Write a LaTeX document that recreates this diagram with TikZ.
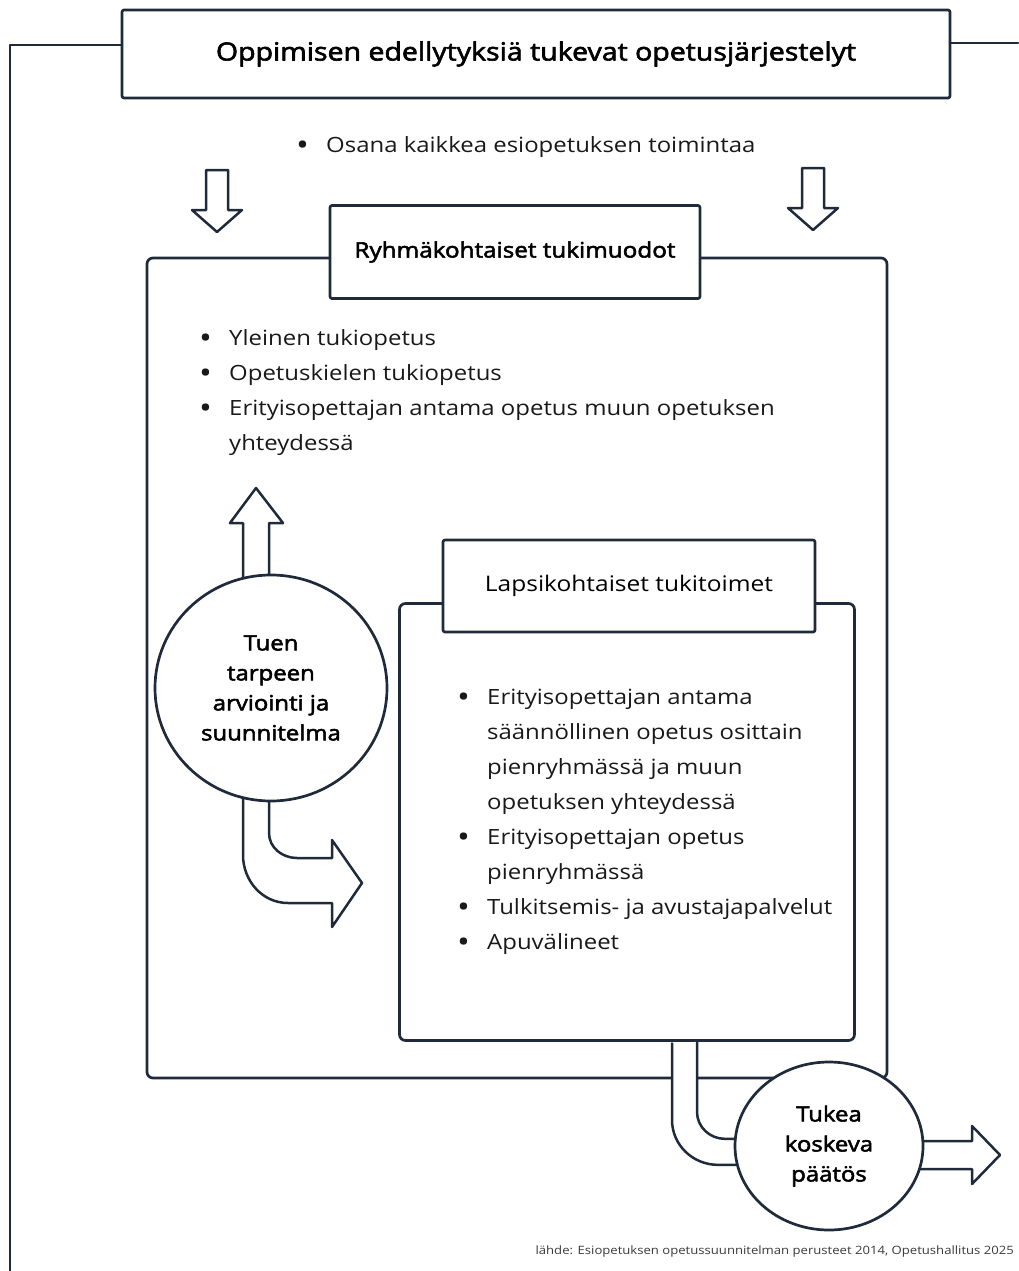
\documentclass[tikz,border=0pt]{standalone}
\usepackage{fontspec}
\setmainfont{Open Sans}[FakeStretch=1.14]
\newfontfamily\headfont{Open Sans}[FakeStretch=1.14, FakeBold=2.5]
\usetikzlibrary{shapes.geometric,positioning}

\definecolor{inkblue}{HTML}{1F2B3A}
\definecolor{sourcegray}{HTML}{3A3A3A}

\newcommand{\bdot}{\raisebox{-3pt}{\fontsize{30}{35}\selectfont\textbullet}}
\newcommand{\bitem}[1]{\makebox[30pt][l]{\bdot}#1}
\newcommand{\bcont}[1]{\hspace*{30pt}#1}

\tikzset{
  frame/.style={line width=2.7pt, draw=inkblue, line join=round, line cap=round},
  titlebox/.style={frame, fill=white, rounded corners=2pt, inner sep=0pt},
  groupbox/.style={frame, rounded corners=6pt, inner sep=0pt},
  blockarrow/.style={frame, fill=white, line width=2.5pt},
  bubble/.style={frame, fill=white, ellipse, inner sep=0pt, align=center,
    font=\fontsize{21}{30}\headfont},
  bodytext/.style={font=\fontsize{21}{35}\selectfont, text=black!90, align=left, inner sep=0pt},
}

\begin{document}
\begin{tikzpicture}[x=1pt,y=-1pt]
\useasboundingbox (0,0) rectangle (1018,1271);

% Main heading and outer frame
\node[titlebox, minimum width=828pt, minimum height=88pt,
  font=\fontsize{25}{28}\headfont] (title) at (536,54)
  {Oppimisen edellytyksiä tukevat opetusjärjestelyt};
\draw[frame] ([yshift=9pt]title.west) -- (10,45) -- (10,1271);
\draw[frame] ([yshift=11pt]title.east) -- (1018,43);

\node[bodytext, anchor=north west] (general) at (296,136)
  {\bitem{Osana kaikkea esiopetuksen toimintaa}};

% Hollow arrows down
\coordinate (downL) at (217,170);
\coordinate (downR) at (813,168);
\draw[blockarrow] (downL) ++(-11,0) -- ++(22,0) -- ++(0,40) -- ++(14,0)
  -- ++(-25,22) -- ++(-25,-22) -- ++(14,0) -- cycle;
\draw[blockarrow] (downR) ++(-11,0) -- ++(22,0) -- ++(0,40) -- ++(14,0)
  -- ++(-25,22) -- ++(-25,-22) -- ++(14,0) -- cycle;

% Group level support
\node[groupbox, minimum width=740pt, minimum height=820pt] (group) at (517,668) {};
\node[titlebox, minimum width=370pt, minimum height=93pt,
  font=\fontsize{21.3}{24}\headfont] (grouptitle) at (515,252)
  {Ryhmäkohtaiset tukimuodot};
\node[bodytext, anchor=north west] (grouplist) at (199,329)
  {\bitem{Yleinen tukiopetus}\\
   \bitem{Opetuskielen tukiopetus}\\
   \bitem{Erityisopettajan antama opetus muun opetuksen}\\
   \bcont{yhteydessä}};

% Child level support
\node[groupbox, minimum width=455pt, minimum height=437pt] (child) at (627,822) {};
\node[titlebox, minimum width=372pt, minimum height=92pt,
  font=\fontsize{21.5}{24}\selectfont] (childtitle) at (629,586)
  {Lapsikohtaiset tukitoimet};
\node[bodytext, anchor=north west] (childlist) at (457,689)
  {\bitem{Erityisopettajan antama}\\
   \bcont{säännöllinen opetus osittain}\\
   \bcont{pienryhmässä ja muun}\\
   \bcont{opetuksen yhteydessä}\\
   \bitem{Erityisopettajan opetus}\\
   \bcont{pienryhmässä}\\
   \bitem{Tulkitsemis- ja avustajapalvelut}\\
   \bitem{Apuvälineet}};

% Arrows around the assessment
\coordinate (assesstop) at (271,575);
\coordinate (assessbot) at (271,801);
\draw[blockarrow] (assesstop) ++(-28,15) -- ++(0,-67) -- ++(-13,0) -- ++(26,-35)
  -- ++(27,35) -- ++(-14,0) -- ++(0,67) -- cycle;
\draw[blockarrow] (assessbot) ++(-28,-11) -- ++(0,65) to[out=-90,in=180] ++(45,48)
  -- ++(44,0) -- ++(0,24) -- ++(30,-44) -- ++(-30,-43) -- ++(0,18) -- ++(-35,0)
  to[out=180,in=-90] ++(-28,-25) -- ++(0,-43) -- cycle;

% Arrow from child box to the decision
\draw[blockarrow] (child.south) ++(45,1.5) -- ++(0,76.5) to[out=-90,in=180] ++(46,45)
  -- ++(40,0) -- ++(0,-26) -- ++(-33,0) to[out=180,in=-90] ++(-28,-27) -- ++(0,-70);
\draw[blockarrow] (923,1146) ++(-13,-5) -- ++(62,0) -- ++(0,-15) -- ++(28,29)
  -- ++(-28,29) -- ++(0,-15) -- ++(-62,0) -- cycle;

% Bubbles
\node[bubble, minimum width=232pt, minimum height=226pt] (assess) at (271,688)
  {Tuen\\tarpeen\\arviointi ja\\suunnitelma};
\node[bubble, minimum width=188pt, minimum height=168pt] (decision) at (829,1146)
  {Tukea\\koskeva\\päätös};

\node[anchor=base east, inner sep=0pt, text=sourcegray,
  font=\fontsize{11.5}{14}\selectfont] (source) at (1014,1254)
  {lähde: Esiopetuksen opetussuunnitelman perusteet 2014, Opetushallitus 2025};
\end{tikzpicture}
\end{document}
